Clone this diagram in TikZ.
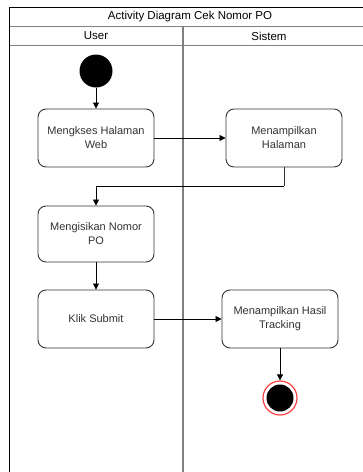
\documentclass[tikz,border=0pt]{standalone}
\usepackage{fontspec}
\setmainfont{Liberation Sans}
\usetikzlibrary{arrows.meta}
\definecolor{boxline}{HTML}{333333}
\definecolor{txt}{HTML}{333333}
\definecolor{laneline}{HTML}{808080}
\definecolor{endred}{HTML}{FF4040}
\tikzset{
  act/.style={draw=boxline, line width=0.9pt, rounded corners=8pt, fill=white,
    minimum width=116pt, minimum height=58pt, align=center, text=txt,
    font=\fontsize{11}{14}\selectfont, inner sep=2pt},
  flow/.style={draw=black, line width=0.8pt, -{Triangle[length=6pt,width=6pt]}},
  conn/.style={draw=boxline, line width=0.8pt},
  hdr/.style={font=\fontsize{11.5}{13}\selectfont, text=black}
}
\begin{document}
\begin{tikzpicture}[x=1pt,y=-1pt]
\useasboundingbox (0,0) rectangle (363,472);
\fill[white] (0,0) rectangle (363,472);
\begin{scope}
\clip (0,0) rectangle (363,472);
% lane frame
\draw[laneline, line width=0.9pt] (9,26) -- (372,26);
\draw[laneline, line width=0.9pt] (9,45) -- (372,45);
\draw[laneline, line width=1.2pt] (183,26) -- (183,480);
\draw[black, line width=1pt] (9,480) -- (9,7) -- (372,7);
\node[hdr] (title) at (190,16.5) {Activity Diagram Cek Nomor PO};
\node[hdr] (user) at (96,36) {User};
\node[hdr] (sistem) at (269,36) {Sistem};
% nodes
\node[circle, fill=black, minimum size=33pt, inner sep=0] (start) at (96,71) {};
\node[act] (b1) at (96,138) {Mengkses Halaman\\Web};
\node[act] (b2) at (284,138) {Menampilkan\\Halaman};
\node[act, minimum height=56pt] (b3) at (96,234) {Mengisikan Nomor\\PO};
\node[act] (b4) at (96,319) {Klik Submit};
\node[act] (b5) at (280,319) {Menampilkan Hasil\\Tracking};
\node[circle, draw=endred, line width=1.2pt, fill=white, minimum size=34pt, inner sep=0] (end) at (280,398) {};
\node[circle, fill=black, minimum size=27pt, inner sep=0] (endin) at (280,398) {};
% connectors
\coordinate (bend) at (284,186);
\draw[flow] (start) -- (b1);
\draw[flow] (b1) -- (b2);
\draw[conn] (b2.south) -- (bend);
\draw[flow] (bend) -| (b3.north);
\draw[flow] (b3) -- (b4);
\draw[flow] (b4) -- (b5);
\draw[flow] (b5) -- (end);
\end{scope}
\end{tikzpicture}
\end{document}
